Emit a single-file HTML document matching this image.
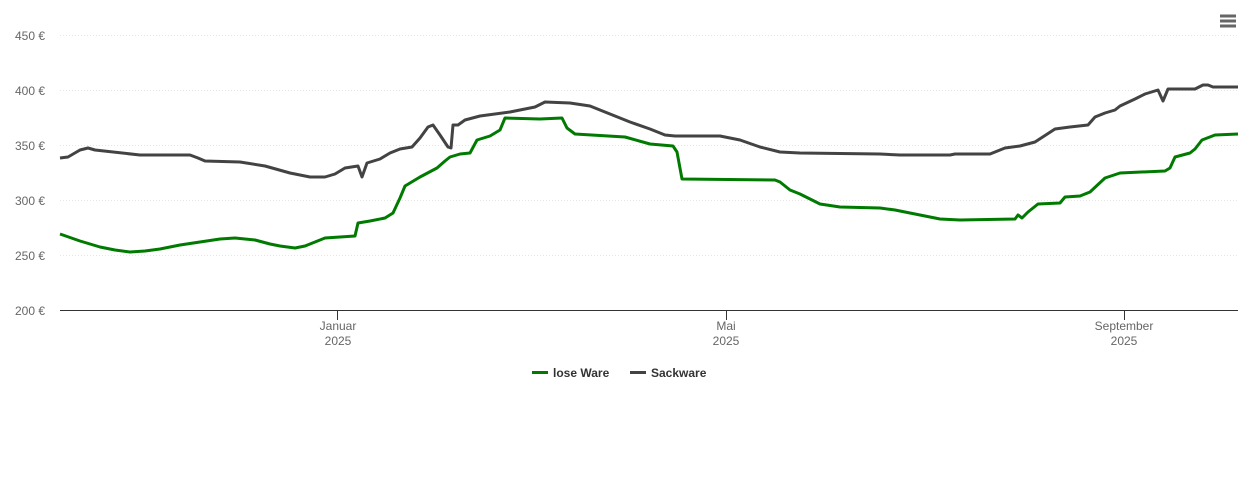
<!DOCTYPE html>
<html><head><meta charset="utf-8"><style>
body{margin:0;background:#fff;}
text{font-family:"Liberation Sans",sans-serif;}
</style></head><body>
<svg width="1249" height="476" xmlns="http://www.w3.org/2000/svg">
<rect width="1249" height="476" fill="#fff"/>
<g stroke="#e6e6e6" stroke-width="1" stroke-dasharray="1,2">
<line x1="60" y1="35.5" x2="1238" y2="35.5"/>
<line x1="60" y1="90.5" x2="1238" y2="90.5"/>
<line x1="60" y1="145.5" x2="1238" y2="145.5"/>
<line x1="60" y1="200.5" x2="1238" y2="200.5"/>
<line x1="60" y1="255.5" x2="1238" y2="255.5"/>
</g>
<line x1="60" y1="310.5" x2="1238" y2="310.5" stroke="#333" stroke-width="1"/>
<g stroke="#333"><line x1="337.5" y1="310" x2="337.5" y2="320"/><line x1="726.5" y1="310" x2="726.5" y2="320"/><line x1="1124.5" y1="310" x2="1124.5" y2="320"/></g>
<g font-size="12" fill="#666" text-anchor="end">
<text x="45" y="40">450 €</text><text x="45" y="95">400 €</text><text x="45" y="150">350 €</text>
<text x="45" y="205">300 €</text><text x="45" y="260">250 €</text><text x="45" y="315">200 €</text>
</g>
<g font-size="12" fill="#666" text-anchor="middle">
<text x="338" y="330">Januar</text><text x="338" y="345">2025</text>
<text x="726" y="330">Mai</text><text x="726" y="345">2025</text>
<text x="1124" y="330">September</text><text x="1124" y="345">2025</text>
</g>
<polyline fill="none" stroke="#007a00" stroke-width="3" stroke-linejoin="round" points="60,234 80,241 100,247 115,250 130,252 145,251 160,249 180,245 200,242 220,239 235,238 245,239 255,240 270,244 280,246 295,248 305,246 315,242 325,238 340,237 355,236 358,223 370,221 385,218 393,213 400,198 405,186 420,177 437,168 445,161 450,157 460,154 470,153 477,140 490,136 500,130 505,118 540,119 562,118 567,128 575,134 625,137 650,144 673,146 677,152 682,179 775,180 780,182 790,190 800,194 820,204 840,207 880,208 895,210 910,213 940,219 960,220 1015,219 1018,215 1022,218 1028,212 1038,204 1060,203 1065,197 1080,196 1090,192 1105,178 1120,173 1165,171 1170,168 1175,157 1190,153 1195,149 1202,140 1215,135 1238,134"/>
<polyline fill="none" stroke="#434343" stroke-width="3" stroke-linejoin="round" points="60,158 68,157 80,150 88,148 95,150 140,155 190,155 198,158 205,161 240,162 265,166 290,173 310,177 325,177 335,174 345,168 358,166 362,177 367,163 380,159 390,153 400,149 412,147 420,138 428,127 433,125 440,135 448,147 451,148 453,125 458,125 465,120 480,116 510,112 535,107 545,102 570,103 590,106 610,114 630,122 650,129 665,135 675,136 720,136 740,140 760,147 780,152 800,153 880,154 900,155 950,155 955,154 990,154 1005,148 1020,146 1035,142 1055,129 1070,127 1088,125 1095,117 1105,113 1115,110 1120,106 1135,99 1145,94 1158,90 1163,101 1168,89 1195,89 1203,85 1208,85 1213,87 1238,87"/>
<g stroke="#666" stroke-width="3"><line x1="1220" y1="16" x2="1236" y2="16"/><line x1="1220" y1="21" x2="1236" y2="21"/><line x1="1220" y1="26" x2="1236" y2="26"/></g>
<line x1="532" y1="372.5" x2="548" y2="372.5" stroke="#007a00" stroke-width="3"/>
<text x="553" y="377" font-size="12" font-weight="bold" fill="#333">lose Ware</text>
<line x1="630" y1="372.5" x2="646" y2="372.5" stroke="#434343" stroke-width="3"/>
<text x="651" y="377" font-size="12" font-weight="bold" fill="#333">Sackware</text>
</svg>
</body></html>
